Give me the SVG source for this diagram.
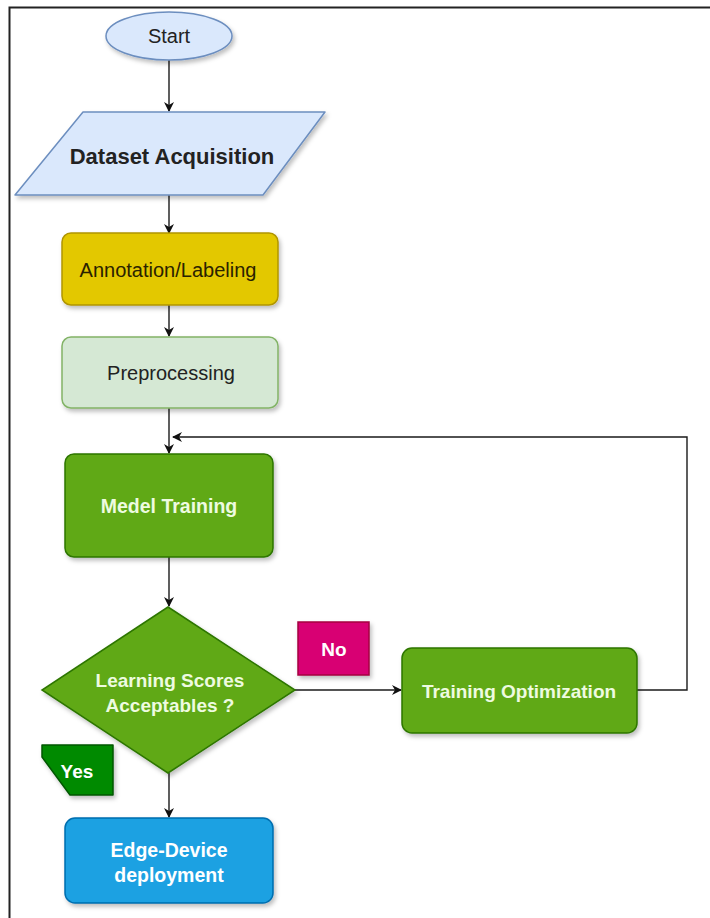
<svg xmlns="http://www.w3.org/2000/svg" width="710" height="918" viewBox="0 0 710 918">
<defs>
<filter id="sh" x="-10%" y="-10%" width="130%" height="140%">
<feDropShadow dx="2" dy="3" stdDeviation="2" flood-color="#000" flood-opacity="0.25"/>
</filter>
<marker id="ar" viewBox="0 0 10 10" refX="9" refY="5" markerWidth="10" markerHeight="10" markerUnits="userSpaceOnUse" orient="auto">
<path d="M0,0 L10,5 L0,10 L3,5 Z" fill="#111"/>
</marker>
</defs>
<style>
text{font-family:"Liberation Sans",Arial,sans-serif;text-anchor:middle;dominant-baseline:central}
.b{font-weight:bold}
.con{fill:none;stroke:#1a1a1a;stroke-width:1.4}
.w{fill:#eefbe0}
</style>
<rect x="0" y="0" width="710" height="918" fill="#fff"/>
<path d="M9.5,918 V7.5 H710" fill="none" stroke="#222" stroke-width="2"/>
<g id="connectors">
<line class="con" x1="169" y1="60" x2="169" y2="111" marker-end="url(#ar)"/>
<line class="con" x1="169" y1="195" x2="169" y2="233" marker-end="url(#ar)"/>
<line class="con" x1="169" y1="305" x2="169" y2="336" marker-end="url(#ar)"/>
<line class="con" x1="169" y1="408" x2="169" y2="453" marker-end="url(#ar)"/>
<polyline class="con" points="637,690 687,690 687,437 173,437" marker-end="url(#ar)"/>
<line class="con" x1="169" y1="557" x2="169" y2="606" marker-end="url(#ar)"/>
<line class="con" x1="295" y1="690" x2="401" y2="690" marker-end="url(#ar)"/>
<line class="con" x1="169" y1="773" x2="169" y2="817" marker-end="url(#ar)"/>
</g>
<g id="start">
<ellipse cx="169" cy="36" rx="63" ry="24" fill="#dae8fc" stroke="#6c8ebf" stroke-width="1.5" filter="url(#sh)"/>
<text x="169" y="36" font-size="20" fill="#222">Start</text>
</g>
<g id="dataset">
<polygon points="83,112 325,112 263,195 15,195" fill="#dae8fc" stroke="#6c8ebf" stroke-width="1.5" stroke-linejoin="round" filter="url(#sh)"/>
<text x="172" y="156" font-size="22" class="b" fill="#222">Dataset Acquisition</text>
</g>
<g id="annotation">
<rect x="62" y="233" width="216" height="72" rx="9" fill="#e3c800" stroke="#b09500" stroke-width="1.5" filter="url(#sh)"/>
<text x="168" y="270" font-size="20" fill="#2a2200">Annotation/Labeling</text>
</g>
<g id="preprocessing">
<rect x="62" y="337" width="216" height="71" rx="9" fill="#d5e8d4" stroke="#82b366" stroke-width="1.5" filter="url(#sh)"/>
<text x="171" y="373" font-size="20" fill="#222">Preprocessing</text>
</g>
<g id="training">
<rect x="65" y="454" width="208" height="103" rx="9" fill="#60a917" stroke="#2d7600" stroke-width="1.5" filter="url(#sh)"/>
<text x="169" y="506" font-size="19.5" class="b w">Medel Training</text>
</g>
<g id="decision">
<polygon points="168,607 295,690 168,773 42,690" fill="#60a917" stroke="#2d7600" stroke-width="1.5" filter="url(#sh)"/>
<text x="170" y="680" font-size="19" class="b w">Learning Scores</text>
<text x="170" y="705" font-size="19" class="b w">Acceptables ?</text>
</g>
<g id="no">
<rect x="298" y="622" width="71" height="53" fill="#d80073" stroke="#a50040" stroke-width="1.5" filter="url(#sh)"/>
<text x="334" y="649" font-size="19" class="b" fill="#fff">No</text>
</g>
<g id="optimization">
<rect x="402" y="648" width="235" height="85" rx="10" fill="#60a917" stroke="#2d7600" stroke-width="1.5" filter="url(#sh)"/>
<text x="519" y="691" font-size="19" class="b w">Training Optimization</text>
</g>
<g id="yes">
<polygon points="42,745 113,745 113,795 70,795 42,757" fill="#008a00" stroke="#005700" stroke-width="1.5" stroke-linejoin="round" filter="url(#sh)"/>
<text x="77" y="771" font-size="19" class="b" fill="#fff">Yes</text>
</g>
<g id="deployment">
<rect x="65" y="818" width="208" height="85" rx="10" fill="#1ba1e2" stroke="#006eaf" stroke-width="1.5" filter="url(#sh)"/>
<text x="169" y="850" font-size="19.5" class="b" fill="#fff">Edge-Device</text>
<text x="169" y="875" font-size="19.5" class="b" fill="#fff">deployment</text>
</g>
</svg>
